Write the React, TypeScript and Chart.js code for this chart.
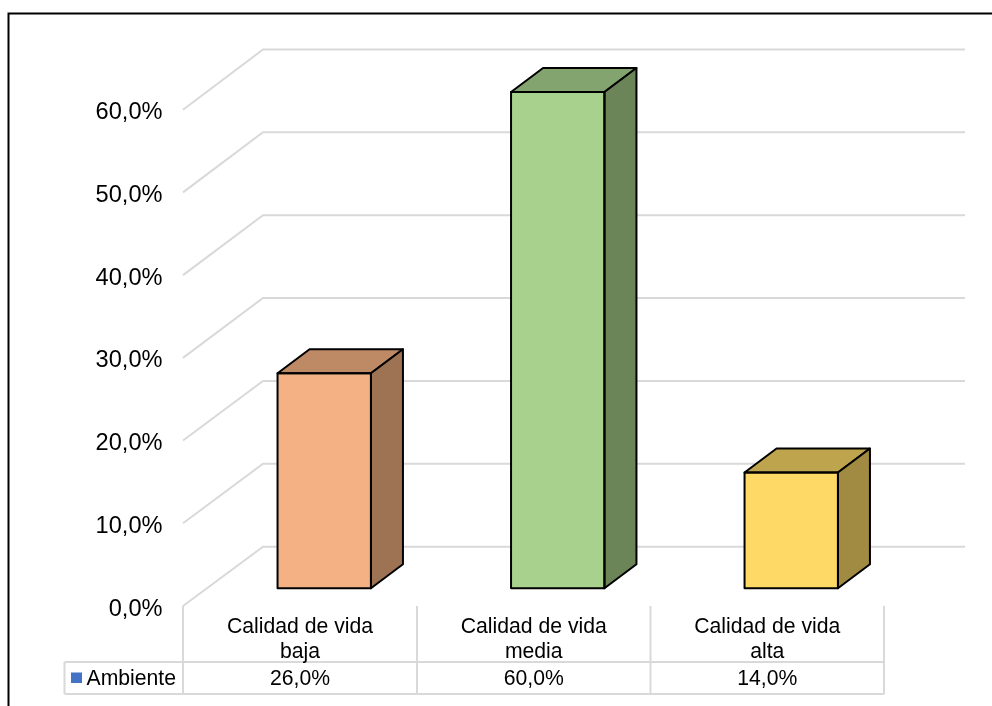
import React, { useEffect, useRef } from "react";
import { Chart, registerables } from "chart.js";

Chart.register(...registerables);

const categories: string[][] = [
  ["Calidad de vida", "baja"],
  ["Calidad de vida", "media"],
  ["Calidad de vida", "alta"],
];
const seriesName = "Ambiente";
const ambiente: number[] = [26, 60, 14];
const frontColors = ["#F4B183", "#A9D18E", "#FFD966"];
const topColors = ["#BE8A66", "#83A36F", "#BFA44E"];
const sideColors = ["#9E7353", "#6B8559", "#A18A41"];

const FONT = '"Liberation Sans", Arial, sans-serif';
const GRID = "#D9D9D9";

const formatPercent = (v: number) => v.toFixed(1).replace(".", ",") + "%";

// Pseudo-3D chart frame: walls behind the bars, extruded bar faces, and the data table below.
const wallsPlugin = {
  id: "walls",
  beforeDraw(chart: Chart) {
    const { ctx } = chart;
    ctx.save();
    ctx.fillStyle = "#FFFFFF";
    ctx.fillRect(0, 0, chart.width, chart.height);
    ctx.strokeStyle = "#000000";
    ctx.lineWidth = 2;
    ctx.beginPath();
    ctx.moveTo(8.5, chart.height);
    ctx.lineTo(8.5, 13.5);
    ctx.lineTo(chart.width, 13.5);
    ctx.stroke();
    ctx.restore();
  },
  beforeDatasetsDraw(chart: Chart) {
    const { ctx } = chart;
    const y = chart.scales.y;
    ctx.save();
    ctx.strokeStyle = GRID;
    ctx.lineWidth = 2;
    ctx.lineJoin = "miter";
    ctx.fillStyle = "#000000";
    ctx.font = `23.6px ${FONT}`;
    ctx.textAlign = "right";
    ctx.textBaseline = "middle";
    y.ticks.forEach((tick) => {
      const py = y.getPixelForValue(tick.value);
      const front = py + 17.7;
      const back = 546.7 - (y.bottom - py) * 1.002;
      ctx.beginPath();
      ctx.moveTo(183, front);
      ctx.lineTo(263, back);
      ctx.lineTo(965, back);
      ctx.stroke();
      ctx.fillText(String(tick.label), 162.5, front + 3);
    });
    ctx.restore();
  },
  afterDatasetsDraw(chart: Chart) {
    const { ctx } = chart;
    const dx = 32;
    const dy = 24;
    const bars = chart.getDatasetMeta(0).data as any[];
    ctx.save();
    ctx.strokeStyle = "#000000";
    ctx.lineWidth = 2;
    ctx.lineJoin = "round";
    bars.forEach((bar, i) => {
      const l = bar.x - bar.width / 2;
      const r = bar.x + bar.width / 2;
      const t = bar.y;
      const b = bar.base;
      ctx.fillStyle = topColors[i];
      ctx.beginPath();
      ctx.moveTo(l, t);
      ctx.lineTo(l + dx, t - dy);
      ctx.lineTo(r + dx, t - dy);
      ctx.lineTo(r, t);
      ctx.closePath();
      ctx.fill();
      ctx.stroke();
      ctx.fillStyle = sideColors[i];
      ctx.beginPath();
      ctx.moveTo(r, t);
      ctx.lineTo(r + dx, t - dy);
      ctx.lineTo(r + dx, b - dy);
      ctx.lineTo(r, b);
      ctx.closePath();
      ctx.fill();
      ctx.stroke();
      ctx.strokeRect(l, t, r - l, b - t);
    });
    ctx.restore();
  },
  afterDraw(chart: Chart) {
    const { ctx } = chart;
    const columns = [183, 417, 650.5, 884];
    const tableTop = 606;
    const rowTop = 662;
    const rowBottom = 694;
    ctx.save();
    ctx.strokeStyle = GRID;
    ctx.lineWidth = 2;
    ctx.beginPath();
    columns.forEach((cx) => {
      ctx.moveTo(cx, tableTop);
      ctx.lineTo(cx, rowBottom);
    });
    ctx.moveTo(64.5, rowTop);
    ctx.lineTo(884, rowTop);
    ctx.moveTo(64.5, rowBottom);
    ctx.lineTo(884, rowBottom);
    ctx.moveTo(64.5, rowTop);
    ctx.lineTo(64.5, rowBottom);
    ctx.stroke();

    ctx.fillStyle = "#4472C4";
    ctx.fillRect(71, 672.5, 11, 10.5);

    ctx.fillStyle = "#000000";
    ctx.font = `21.2px ${FONT}`;
    ctx.textBaseline = "middle";
    ctx.textAlign = "left";
    ctx.fillText(seriesName, 86.5, 679.5);
    ctx.textAlign = "center";
    categories.forEach((lines, i) => {
      const cx = (columns[i] + columns[i + 1]) / 2;
      lines.forEach((line, j) => ctx.fillText(line, cx, 627.5 + j * 24.5));
      ctx.fillText(formatPercent(ambiente[i]), cx, 679.5);
    });
    ctx.restore();
  },
};

export default function App() {
  const ref = useRef<HTMLCanvasElement>(null);

  useEffect(() => {
    if (!ref.current) return;
    const chart = new Chart(ref.current, {
      type: "bar",
      data: {
        labels: categories,
        datasets: [
          {
            label: seriesName,
            data: ambiente,
            backgroundColor: frontColors,
            borderWidth: 0,
            barPercentage: 0.4,
            categoryPercentage: 1,
          },
        ],
      },
      options: {
        responsive: false,
        animation: false,
        layout: { padding: { left: 207.5, right: 84, top: 92, bottom: 117.7 } },
        plugins: { legend: { display: false }, tooltip: { enabled: false } },
        scales: {
          x: { display: false },
          y: {
            display: false,
            min: 0,
            max: 60,
            ticks: { stepSize: 10, callback: (v) => formatPercent(Number(v)) },
          },
        },
      },
      plugins: [wallsPlugin],
    });
    return () => chart.destroy();
  }, []);

  return (
    <div style={{ position: "absolute", left: 0, top: 0 }}>
      <canvas ref={ref} width={992} height={706} style={{ display: "block" }} />
    </div>
  );
}
